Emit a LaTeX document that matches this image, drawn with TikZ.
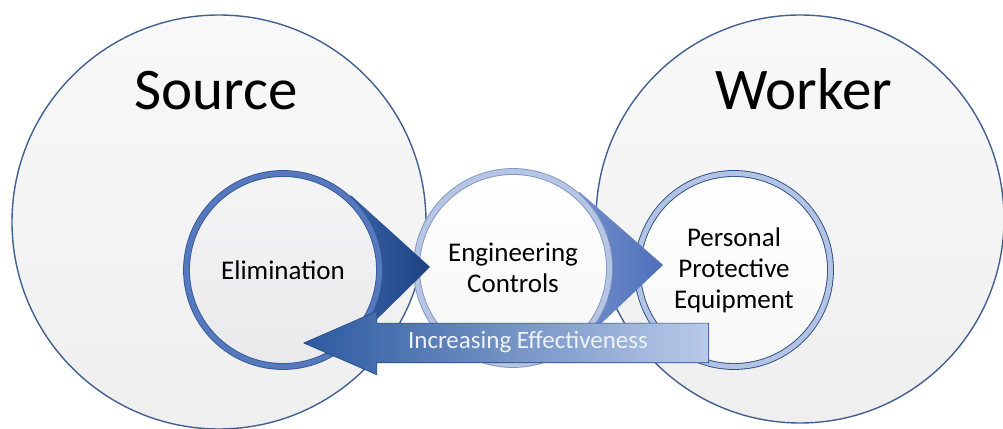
\documentclass[tikz,border=0pt]{standalone}
\usepackage{fontspec}
\setmainfont{Carlito}
\usetikzlibrary{shapes.arrows,calc}
\definecolor{discedge}{HTML}{41608F}
\definecolor{elimring}{HTML}{5579BC}
\definecolor{elimline}{HTML}{34589A}
\definecolor{engring}{HTML}{B6C5E3}
\definecolor{engline}{HTML}{7F95C2}
\definecolor{ppering}{HTML}{B3C3E3}
\definecolor{ppeline}{HTML}{2B4B88}
\definecolor{arrowdark}{HTML}{2C59A0}
\definecolor{arrowlight}{HTML}{B9CAE9}
\def\darkchevronscheme{\shade[left color={rgb,255:red,80;green,125;blue,200}, right color={rgb,255:red,28;green,66;blue,128}]}
\def\lightchevronscheme{\shade[left color={rgb,255:red,140;green,166;blue,220}, right color={rgb,255:red,78;green,112;blue,184}]}
\tikzset{
  bigdisc/.style={circle, inner sep=0pt, minimum size=414pt, draw=discedge, line width=1.4pt, top color=gray!5, bottom color=gray!13},
  bigtitle/.style={font=\fontsize{59}{70}\selectfont, anchor=base},
  stage/.style 2 args={circle, inner sep=0pt, minimum size=193pt, align=center, font=\fontsize{27}{31}\selectfont, draw=#1, double=#2, double distance=5pt, line width=0.9pt}
}

\begin{document}
\begin{tikzpicture}[x=1pt,y=1pt]
\fill[white] (0,0) rectangle (1003,428);
\useasboundingbox (0,0) rectangle (1003,428);
% the two big discs
\node (source) at (219,206) [bigdisc] {};
\node (worker) at (800,209) [bigdisc, minimum size=408pt] {};
\node (sourcetitle) at (216,318) [bigtitle] {Source};
\node (workertitle) at (804,318) [bigtitle] {Worker};
\coordinate (elimc) at (283,158);
\coordinate (engc) at (513,160);
\coordinate (elimtip) at (430,161);
\coordinate (engtip) at (663,163);
% drawn from right to left so each point lies on the next circle
\node (ppe) at (734,158) [stage={ppeline}{ppering}, top color=white, bottom color=blue!3!gray!6] {Personal\\Protective\\Equipment};
\lightchevronscheme (engtip) -- ($(engc)+(48.8:101)$) -- (engc) -- ($(engc)+(-46.6:101)$) -- cycle;
\node (eng) at (engc) [stage={engline}{engring}, top color=white, bottom color=blue!2!gray!7] {Engineering\\Controls};
\darkchevronscheme (elimtip) -- ($(elimc)+(47.8:101)$) -- (elimc) -- ($(elimc)+(-45.4:101)$) -- cycle;
\node (elim) at (elimc) [stage={elimline}{elimring}, top color=blue!4!gray!8, bottom color=blue!6!gray!16] {Elimination};
% increasing effectiveness
\node (effect) at (303,85) [single arrow, shape border rotate=180, anchor=tip, inner xsep=0pt, inner ysep=19.5pt, minimum height=405pt, minimum width=63pt, single arrow head extend=12pt, single arrow tip angle=47, draw=arrowdark!80!black, line width=0.6pt, left color=arrowdark, right color=arrowlight] {};
\node (effecttext) at (528,86) [font=\fontsize{25}{30}\selectfont, text={rgb,255:red,238;green,243;blue,251}] {Increasing Effectiveness};
\end{tikzpicture}
\end{document}
